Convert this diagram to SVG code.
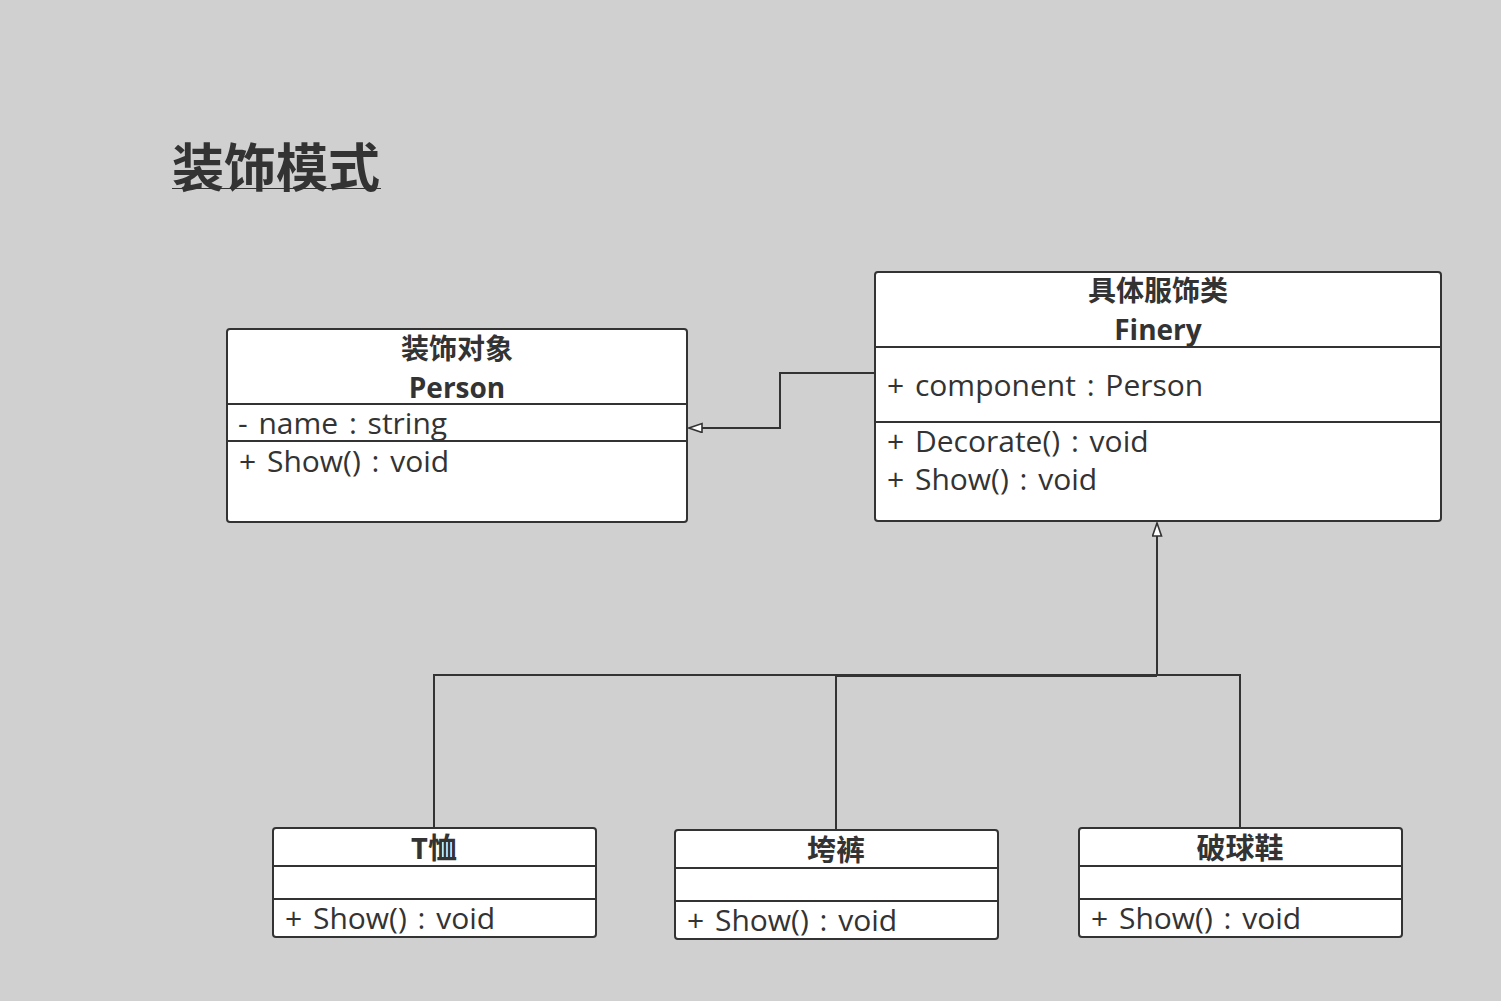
<svg xmlns="http://www.w3.org/2000/svg" width="1501" height="1001" viewBox="0 0 1501 1001">
<defs>
<style>
.box{fill:#fff;stroke:#333;stroke-width:2}
.sep{stroke:#333;stroke-width:2}
.hd{font-family:"Open Sans","Noto Sans CJK SC",sans-serif;font-weight:bold;font-size:29px;fill:#333;text-anchor:middle}
.hs{font-size:28px}
.mb{font-family:"Open Sans","Noto Sans CJK SC",sans-serif;font-size:30px;fill:#333;word-spacing:3px}
.cn{fill:none;stroke:#333;stroke-width:2}
</style>
<marker id="tri" markerUnits="userSpaceOnUse" markerWidth="16" markerHeight="12" refX="14" refY="5" orient="auto">
<path d="M1,0.5 L14,5 L1,9.5 z" fill="#fff" stroke="#333" stroke-width="1.6"/>
</marker>
</defs>
<rect width="1501" height="1001" fill="#d0d0d0"/>
<g id="title">
<text x="172" y="187" font-family="Open Sans,Noto Sans CJK SC,sans-serif" font-weight="bold" font-size="52" fill="#333">装饰模式</text>
<line x1="172" y1="188.5" x2="381" y2="188.5" stroke="#333" stroke-width="1"/>
</g>
<g id="connectors">
<path class="cn" d="M875,373 H780 V428 H689" marker-end="url(#tri)"/>
<path class="cn" d="M434,828 V675 H1157 V523" marker-end="url(#tri)"/>
<path class="cn" d="M836,830 V676 H1157"/>
<path class="cn" d="M1240,828 V675 H1157"/>
</g>
<g id="person">
<rect class="box" x="227" y="329" width="460" height="193" rx="3"/>
<line class="sep" x1="227" y1="404" x2="687" y2="404"/>
<line class="sep" x1="227" y1="441" x2="687" y2="441"/>
<text class="hd hs"><tspan x="457" y="359">装饰对象</tspan><tspan x="457" y="398">Person</tspan></text>
<text class="mb" x="238" y="434">- name : string</text>
<text class="mb" x="239" y="472">+ Show() : void</text>
</g>
<g id="finery">
<rect class="box" x="875" y="272" width="566" height="249" rx="3"/>
<line class="sep" x1="875" y1="347" x2="1441" y2="347"/>
<line class="sep" x1="875" y1="422" x2="1441" y2="422"/>
<text class="hd hs"><tspan x="1158" y="301">具体服饰类</tspan><tspan x="1158" y="340">Finery</tspan></text>
<text class="mb" x="887" y="396">+ component : Person</text>
<text class="mb" x="887" y="452">+ Decorate() : void</text>
<text class="mb" x="887" y="490">+ Show() : void</text>
</g>
<g id="tshirt">
<rect class="box" x="273" y="828" width="323" height="109" rx="3"/>
<line class="sep" x1="273" y1="866" x2="596" y2="866"/>
<line class="sep" x1="273" y1="899" x2="596" y2="899"/>
<text class="hd" x="434" y="859">T恤</text>
<text class="mb" x="285" y="929">+ Show() : void</text>
</g>
<g id="pants">
<rect class="box" x="675" y="830" width="323" height="109" rx="3"/>
<line class="sep" x1="675" y1="868" x2="998" y2="868"/>
<line class="sep" x1="675" y1="901" x2="998" y2="901"/>
<text class="hd" x="836" y="861">垮裤</text>
<text class="mb" x="687" y="931">+ Show() : void</text>
</g>
<g id="shoes">
<rect class="box" x="1079" y="828" width="323" height="109" rx="3"/>
<line class="sep" x1="1079" y1="866" x2="1402" y2="866"/>
<line class="sep" x1="1079" y1="899" x2="1402" y2="899"/>
<text class="hd" x="1240" y="859">破球鞋</text>
<text class="mb" x="1091" y="929">+ Show() : void</text>
</g>
</svg>
